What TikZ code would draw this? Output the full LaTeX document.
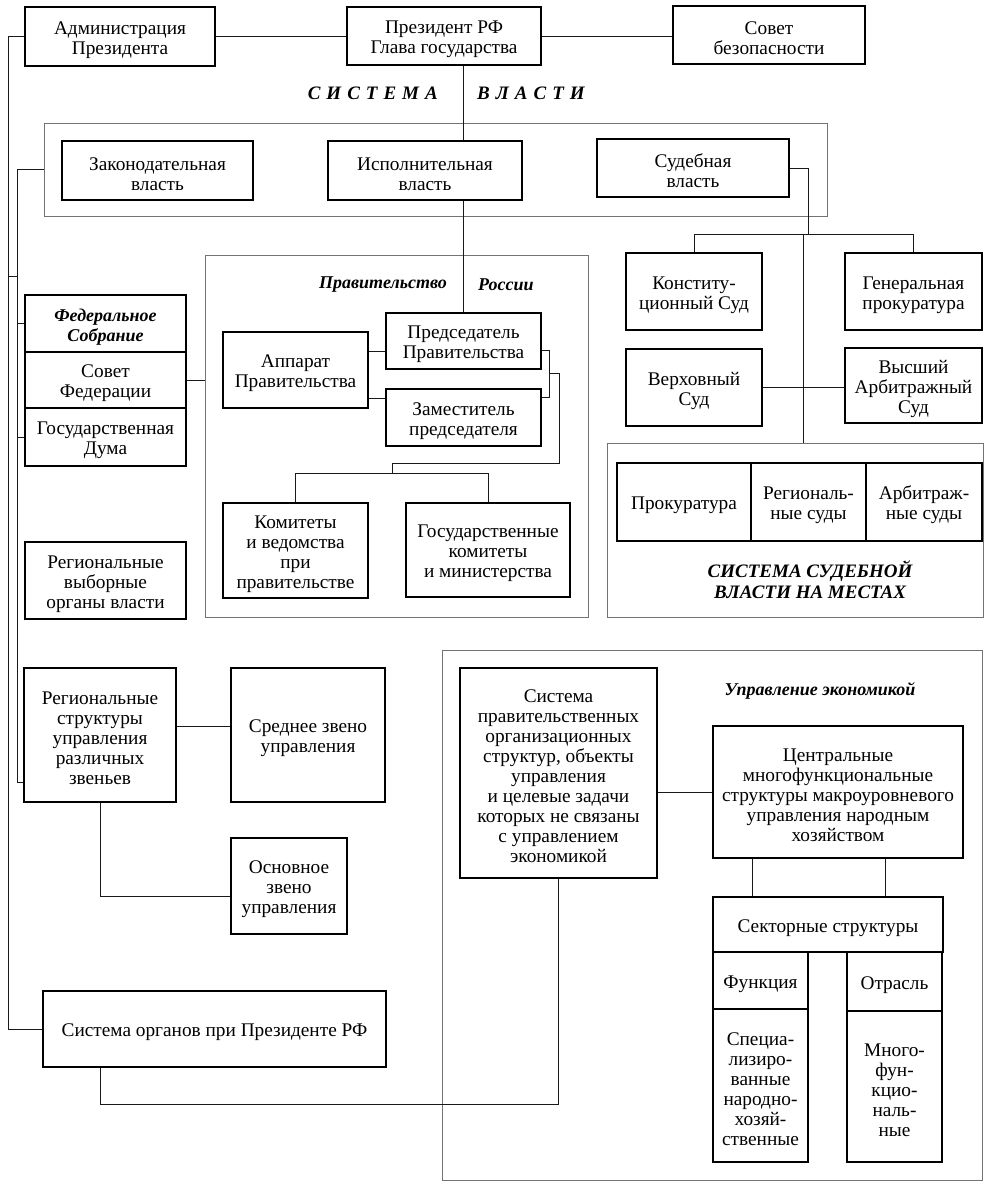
\documentclass[tikz,border=0pt]{standalone}
\usepackage{fontspec}
\setmainfont{Liberation Serif}
\newcommand\bxfont{\fontsize{19.3}{20}\selectfont}
\newcommand\lbfont{\fontsize{18}{20}\selectfont\bfseries\itshape}
\newcommand\capfont{\fontsize{19}{21}\selectfont\bfseries\itshape}
\newcommand\strt{\rule{0pt}{19.5pt}}
\begin{document}
\begin{tikzpicture}[x=1pt,y=-1pt,
  rect/.style args={#1/#2/#3/#4}{minimum width={#3-#1}, minimum height={#4-#2},
      at={({(#1+#3)/2},{(#2+#4)/2})}},
  box/.style={draw, line width=2.3pt, align=center, inner sep=0pt, font=\bxfont},
  frame/.style={draw=black!55, line width=0.9pt, inner sep=0pt},
  conn/.style={draw=black!90, line width=0.9pt},
  lbl/.style={font=\lbfont, inner sep=0pt, align=center},
  capl/.style={font=\capfont, inner sep=0pt, align=center}]
\useasboundingbox[fill=white] (0,0) rectangle (998,1188);

% dotted frames
\node[frame, rect=44/123/827/216] (sysbox) {};
\node[frame, rect=205/255/588/617] (govbox) {};
\node[frame, rect=607/443/983/617] (locbox) {};
\node[frame, rect=442/650/982/1180] (econbox) {};

% top row
\node[box, rect=25/7/215/66] (admin) {\strt Администрация\\Президента};
\node[box, rect=347/7/541/65] (pres) {\strt Президент РФ\\Глава государства};
\node[box, rect=673/6/865/64] (sovet) {\strt Совет\\безопасности};

\node[capl, anchor=east] (sysA) at (438,93) {С\kern6pt И\kern6pt С\kern6pt Т\kern6pt Е\kern6pt М\kern6pt А};
\node[capl, anchor=west] (sysB) at (477,93) {В\kern6pt Л\kern6pt А\kern6pt С\kern6pt Т\kern6pt И};

\node[box, rect=62/141/253/200] (zakon) {\strt Законодательная\\власть};
\node[box, rect=328/141/522/200] (ispoln) {\strt Исполнительная\\власть};
\node[box, rect=597/139/789/197] (sud) {\strt Судебная\\власть};

% judicial
\node[box, rect=626/253/762/330] (konst) {\strt Конститу-\\ционный Суд};
\node[box, rect=845/253/982/330] (genpr) {\strt Генеральная\\прокуратура};
\node[box, rect=626/349/762/426] (verh) {\strt Верховный\\Суд};
\node[box, rect=845/348/982/423] (vas) {\strt Высший\\Арбитражный\\Суд};
\node[box, rect=617/463/751/541] (prok) {\strt Прокуратура};
\node[box, rect=751/463/866/541] (regsud) {\strt Региональ-\\ные суды};
\node[box, rect=866/463/982/541] (arbsud) {\strt Арбитраж-\\ные суды};
\node[capl] (loclbl) at (810,580) {СИСТЕМА СУДЕБНОЙ\\ВЛАСТИ НА МЕСТАХ};

% government
\node[lbl, anchor=east] (govA) at (447,285) {Правительство};
\node[lbl, anchor=west] (govB) at (478,285) {России};
\node[box, rect=386/313/541/369] (pred) {\strt Председатель\\Правительства};
\node[box, rect=223/332/368/408] (apparat) {\strt Аппарат\\Правительства};
\node[box, rect=386/389/541/446] (zam) {\strt Заместитель\\председателя};
\node[box, rect=223/503/368/598] (komit) {\strt Комитеты\\и ведомства\\при\\правительстве};
\node[box, rect=406/503/570/597] (goskom) {\strt Государственные\\комитеты\\и министерства};

% left column
\node[box, rect=25/295/186/352, font=\lbfont] (fedS) {\strt Федеральное\\Собрание};
\node[box, rect=25/352/186/408] (sovfed) {\strt Совет\\Федерации};
\node[box, rect=25/408/186/466] (duma) {\strt Государственная\\Дума};
\node[box, rect=25/542/186/619] (regvyb) {\strt Региональные\\выборные\\органы власти};
\node[box, rect=24/668/176/802] (regstr) {\strt Региональные\\структуры\\управления\\различных\\звеньев};
\node[box, rect=231/668/385/802] (sredn) {\strt Среднее звено\\управления};
\node[box, rect=231/838/347/934] (osnov) {\strt Основное\\звено\\управления};
\node[box, rect=43/991/386/1067] (sysorg) {\strt Система органов при Президенте РФ};

% economy
\node[lbl] (econlbl) at (820,691) {Управление экономикой};
\node[box, rect=460/668/657/878] (sysprav) {\strt Система\\правительственных\\организационных\\структур, объекты\\управления\\и целевые задачи\\которых не связаны\\с управлением\\экономикой};
\node[box, rect=713/726/963/858] (central) {\strt Центральные\\многофункциональные\\структуры макроуровневого\\управления народным\\хозяйством};
\node[box, rect=713/897/943/952] (sektor) {\strt Секторные структуры};
\node[box, rect=713/952/808/1009] (func) {\strt Функция};
\node[box, rect=713/1009/808/1162] (spec) {\strt Специа-\\лизиро-\\ванные\\народно-\\хозяй-\\ственные};
\node[box, rect=847/952/942/1011] (otr) {\strt Отрасль};
\node[box, rect=847/1011/942/1162] (mnogo) {\strt Много-\\фун-\\кцио-\\наль-\\ные};

% connectors
\coordinate (trA) at (8,0);
\coordinate (trB) at (17,0);
\coordinate (vx) at (463,0);
\draw[conn] (admin.west) -- (admin.west -| trA) -- (trA |- sysorg.west) -- (sysorg.west);
\draw[conn] (admin.east) -- (admin.east -| pres.west);
\draw[conn] (pres.east) -- (pres.east -| sovet.west);
\draw[conn] (vx |- pres.south) -- (vx |- ispoln.north);
\draw[conn] (vx |- ispoln.south) -- (vx |- pred.north);
\draw[conn] (sysbox.west) -- (sysbox.west -| trB) -- (trB |- 0,782) -- (regstr.west |- 0,782);
\draw[conn] (trA |- 0,276) -- (trB |- 0,276);
\draw[conn] (trB |- fedS.west) -- (fedS.west);
\draw[conn] (trB |- duma.west) -- (duma.west);
\draw[conn] (sovfed.east) -- (sovfed.east -| govbox.west);
\draw[conn] (apparat.east |- 0,351) -- (pred.west |- 0,351);
\draw[conn] (apparat.east |- 0,398) -- (zam.west |- 0,398);
\draw[conn] (pred.east |- 0,350) -- (549,350) -- (549,397) -- (zam.east |- 0,397);
\coordinate (brk) at (549,373);
\draw[conn] (brk) -- (559,373) -- (559,463) -- (392,463) -- (392,473);
\draw[conn] (komit.north) -- (komit.north |- 0,473) -| (goskom.north);
\draw[conn] (sud.east) -- (808,168) -- (808,234);
\draw[conn] (konst.north) -- (konst.north |- 0,234) -| (genpr.north);
\draw[conn] (803,234) -- (locbox.north -| 803,0);
\draw[conn] (verh.east |- 0,387) -- (vas.west |- 0,387);
\draw[conn] (regstr.east |- 0,726) -- (sredn.west |- 0,726);
\draw[conn] (regstr.south) -- (regstr.south |- 0,896) -- (osnov.west |- 0,896);
\draw[conn] (sysorg.south -| 100,0) -- (100,1104) -| (sysprav.south);
\draw[conn] (sysprav.east |- central.west) -- (central.west);
\draw[conn] (central.south -| 752,0) -- (sektor.north -| 752,0);
\draw[conn] (central.south -| 885,0) -- (sektor.north -| 885,0);
\end{tikzpicture}
\end{document}
